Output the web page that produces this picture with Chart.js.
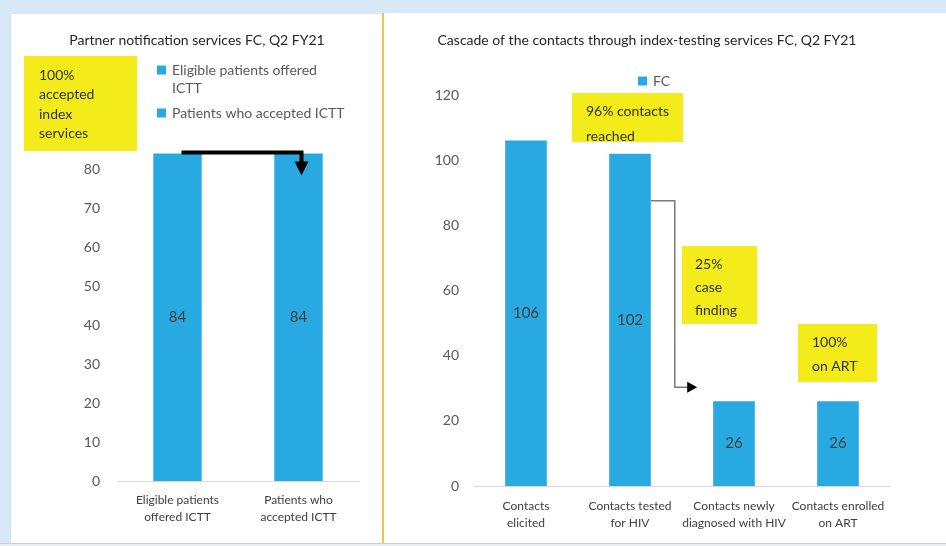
<!DOCTYPE html>
<html>
<head>
<meta charset="utf-8">
<script src="https://cdn.jsdelivr.net/npm/chart.js@4"></script>
<style>
  html, body { margin: 0; padding: 0; }
  body { width: 946px; height: 546px; background: #d7e9f7; position: relative; overflow: hidden; }
  .sheet { position: absolute; background: #fff; }
  #left-sheet  { left: 10px; top: 13px; width: 372px; height: 530px; border-left: 1px solid #e0e0e0; border-top: 1px solid #e6e6e6; box-sizing: border-box; }
  #right-sheet { left: 384px; top: 13px; width: 562px; height: 530px; }
  #divider { position: absolute; left: 382px; top: 13px; width: 2px; height: 530px; background: #f0c24f; }
  #foot { position: absolute; left: 0; top: 543px; width: 946px; height: 3px; background: #e9eef2; border-top: 1px solid #cfcfcf; }
  canvas { position: absolute; }
  #left-chart  { left: 10px; top: 13px; }
  #right-chart { left: 384px; top: 13px; }
</style>
</head>
<body>
<div class="sheet" id="left-sheet"></div>
<div class="sheet" id="right-sheet"></div>
<div id="divider"></div>
<div id="foot"></div>
<canvas id="left-chart" width="372" height="531"></canvas>
<canvas id="right-chart" width="562" height="531"></canvas>
<script>
// data
const pnsCategories = [["Eligible patients", "offered ICTT"], ["Patients who", "accepted ICTT"]];
const pnsValues = [84, 84];
const pnsLegend = [["Eligible patients offered", "ICTT"], ["Patients who accepted ICTT"]];
const pnsNote = ["100%", "accepted", "index", "services"];

const cascadeCategories = [["Contacts", "elicited"], ["Contacts tested", "for HIV"], ["Contacts newly", "diagnosed with HIV"], ["Contacts enrolled", "on ART"]];
const cascadeValues = [106, 102, 26, 26];
const cascadeLegend = ["FC"];
const reachedNote = ["96% contacts", "reached"];
const findingNote = ["25%", "case", "finding"];
const artNote = ["100%", "on ART"];

const BLUE = "#29a9e1";
const YELLOW = "#f3ec1a";
const FONT = "Lato, 'Open Sans', sans-serif";

// value in the middle of each bar
const valueLabels = {
  id: "valueLabels",
  afterDatasetsDraw(chart) {
    const ctx = chart.ctx;
    const meta = chart.getDatasetMeta(0);
    ctx.save();
    ctx.font = "15px " + FONT;
    ctx.fillStyle = "#404040";
    ctx.textAlign = "center";
    ctx.textBaseline = "middle";
    meta.data.forEach((bar, i) => {
      ctx.fillText(String(chart.data.datasets[0].data[i]), bar.x, (bar.y + bar.base) / 2);
    });
    ctx.restore();
  }
};

function noteBox(ctx, x, y, w, h, lines, tx, ty, gap) {
  ctx.fillStyle = YELLOW;
  ctx.fillRect(x, y, w, h);
  ctx.fillStyle = "#333";
  ctx.font = "14px " + FONT;
  ctx.textAlign = "left";
  ctx.textBaseline = "middle";
  lines.forEach((l, i) => ctx.fillText(l, tx, ty + i * gap));
}

function title(ctx, text, x, y) {
  ctx.fillStyle = "#262626";
  ctx.font = "14px " + FONT;
  ctx.textAlign = "center";
  ctx.textBaseline = "middle";
  ctx.fillText(text, x, y);
}

function legendItem(ctx, x, y, lines) {
  ctx.fillStyle = BLUE;
  ctx.fillRect(x, y - 4.5, 9, 9);
  ctx.fillStyle = "#595959";
  ctx.font = "14px " + FONT;
  ctx.textAlign = "left";
  ctx.textBaseline = "middle";
  lines.forEach((l, i) => ctx.fillText(l, x + 15, y + i * 18));
}

function baseOptions(pad, yMax, yStep, yPad, xPad) {
  return {
    responsive: false,
    animation: false,
    layout: { padding: pad },
    plugins: { legend: { display: false }, title: { display: false }, tooltip: { enabled: false } },
    scales: {
      x: {
        grid: { display: false, drawTicks: false },
        border: { display: true, color: "#d9d9d9", width: 1 },
        ticks: { color: "#404040", font: { family: FONT, size: 12, lineHeight: 1.45 }, padding: xPad, maxRotation: 0, autoSkip: false },
        afterFit(s) { s.height = 50; }
      },
      y: {
        min: 0, max: yMax,
        grid: { display: false, drawTicks: false },
        border: { display: false },
        ticks: { stepSize: yStep, color: "#595959", font: { family: FONT, size: 14 }, padding: yPad },
        afterFit(s) { s.width = 50; }
      }
    }
  };
}

// Partner notification services
const pnsDecor = {
  id: "pnsDecor",
  afterDraw(chart) {
    const ctx = chart.ctx;
    const meta = chart.getDatasetMeta(0);
    ctx.save();
    title(ctx, "Partner notification services FC, Q2 FY21", 187, 27);
    noteBox(ctx, 14, 43, 113, 95, pnsNote, 29, 62, 19.5);
    legendItem(ctx, 147, 57, pnsLegend[0]);
    legendItem(ctx, 147, 100, pnsLegend[1]);

    // thick elbow arrow between the two bars
    const a = meta.data[0], b = meta.data[1];
    const y0 = a.y - 1, xEnd = b.x + 3;
    ctx.strokeStyle = "#000";
    ctx.lineWidth = 4;
    ctx.beginPath();
    ctx.moveTo(a.x + 4, y0);
    ctx.lineTo(xEnd, y0);
    ctx.lineTo(xEnd, y0 + 10);
    ctx.stroke();
    ctx.fillStyle = "#000";
    ctx.beginPath();
    ctx.moveTo(xEnd - 7, y0 + 9);
    ctx.lineTo(xEnd + 7, y0 + 9);
    ctx.lineTo(xEnd, y0 + 23);
    ctx.closePath();
    ctx.fill();
    ctx.restore();
  }
};

new Chart(document.getElementById("left-chart"), {
  type: "bar",
  data: {
    labels: pnsCategories,
    datasets: [{ data: pnsValues, backgroundColor: BLUE, categoryPercentage: 1, barPercentage: 0.4 }]
  },
  options: baseOptions({ top: 117, left: 57, right: 23, bottom: 13 }, 90, 10, 17, 10),
  plugins: [valueLabels, pnsDecor]
});

// Cascade
const cascadeDecor = {
  id: "cascadeDecor",
  afterDraw(chart) {
    const ctx = chart.ctx;
    const meta = chart.getDatasetMeta(0);
    ctx.save();
    title(ctx, "Cascade of the contacts through index-testing services FC, Q2 FY21", 263, 27);
    legendItem(ctx, 254, 68, [cascadeLegend[0]]);
    noteBox(ctx, 188, 80, 111, 49, reachedNote, 202, 98, 25);
    noteBox(ctx, 298, 233, 75, 78, findingNote, 311, 251, 23);
    noteBox(ctx, 414, 311, 79, 58, artNote, 428, 329, 24);

    // thin elbow arrow from tested to newly diagnosed
    const b = meta.data[1], c = meta.data[2];
    const x0 = b.x + b.width / 2;
    const y0 = b.y + 47;
    const xv = x0 + 24;
    const y1 = c.y - 14;
    const tip = c.x - c.width / 2 - 16;
    ctx.strokeStyle = "#7a7a7a";
    ctx.lineWidth = 1.5;
    ctx.beginPath();
    ctx.moveTo(x0, y0);
    ctx.lineTo(xv, y0);
    ctx.lineTo(xv, y1);
    ctx.lineTo(tip - 8, y1);
    ctx.stroke();
    ctx.fillStyle = "#000";
    ctx.beginPath();
    ctx.moveTo(tip - 10, y1 - 5.5);
    ctx.lineTo(tip, y1);
    ctx.lineTo(tip - 10, y1 + 5.5);
    ctx.closePath();
    ctx.fill();
    ctx.restore();
  }
};

new Chart(document.getElementById("right-chart"), {
  type: "bar",
  data: {
    labels: cascadeCategories,
    datasets: [{ data: cascadeValues, backgroundColor: BLUE, categoryPercentage: 1, barPercentage: 0.4 }]
  },
  options: baseOptions({ top: 82, left: 40, right: 56, bottom: 8 }, 120, 20, 15, 11),
  plugins: [valueLabels, cascadeDecor]
});
</script>
</body>
</html>
